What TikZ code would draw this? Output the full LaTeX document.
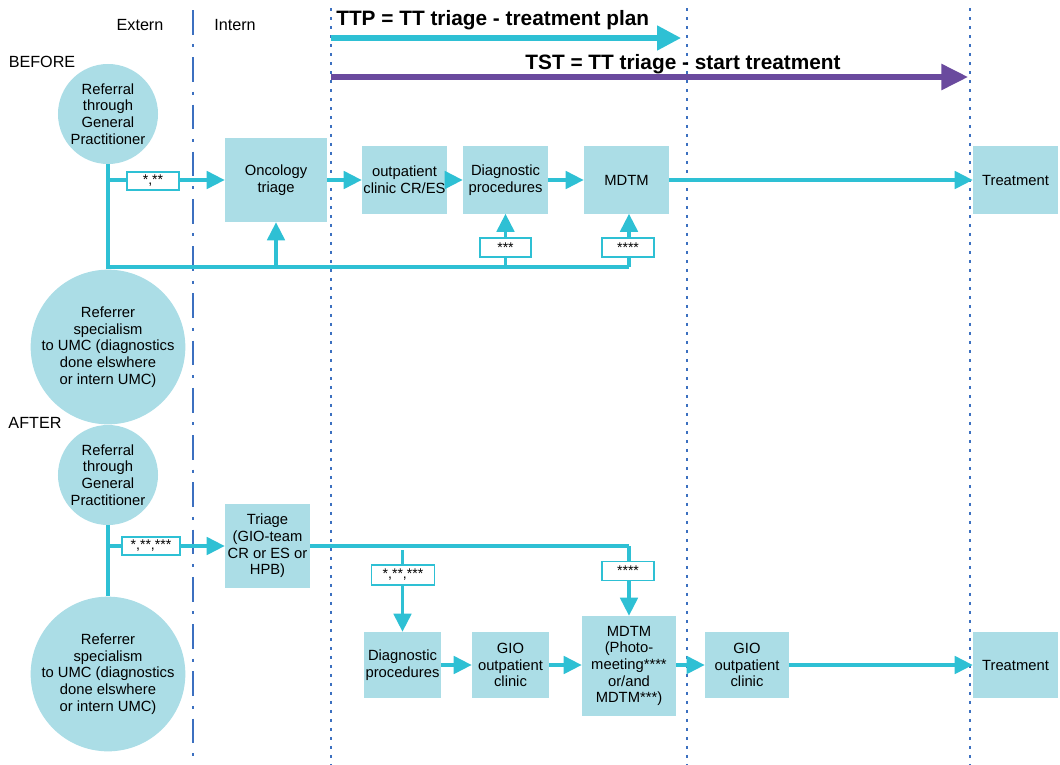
\documentclass[tikz,border=0pt]{standalone}
\usepackage{fontspec}
\setmainfont{Liberation Sans}
\usetikzlibrary{arrows.meta}
\definecolor{cy}{RGB}{46,192,212}
\definecolor{boxfill}{RGB}{171,221,230}
\definecolor{purp}{RGB}{106,74,158}
\definecolor{dblue}{RGB}{60,112,192}
\begin{document}
\begin{tikzpicture}[x=0.025cm,y=-0.025cm,
 every node/.style={font=\fontsize{10.5}{11.8}\selectfont, align=center, inner sep=0pt},
 box/.style={fill=boxfill, draw=none},
 circ/.style={circle, fill=boxfill, draw=none},
 flow/.style={draw=cy, line width=2.2pt},
 arr/.style={flow, -{Triangle[length=12.8pt,width=12.5pt]}},
 lbl/.style={draw=cy, fill=white, line width=1.1pt, font=\fontsize{10}{10}\selectfont},
 vdot/.style={draw=dblue, line width=2.1pt, dash pattern=on 2.1pt off 4.3pt},
 vdashdot/.style={draw=dblue, line width=2.1pt, dash pattern=on 17.5pt off 7pt on 2.1pt off 7pt},
 head/.style={font=\fontsize{11.5}{13}\selectfont},
 titletext/.style={font=\bfseries\fontsize{14.8}{16}\selectfont}
]
\useasboundingbox (0,0) rectangle (1060,764);

% vertical separators
\coordinate (sepA) at (193,10);  \coordinate (sepAe) at (193,764);
\coordinate (sepB) at (331,8);   \coordinate (sepBe) at (331,764);
\coordinate (sepC) at (687,8);   \coordinate (sepCe) at (687,764);
\coordinate (sepD) at (970,8);   \coordinate (sepDe) at (970,764);
\draw[vdashdot] (sepA) -- (sepAe);
\draw[vdot] (sepB) -- (sepBe);
\draw[vdot] (sepC) -- (sepCe);
\draw[vdot] (sepD) -- (sepDe);

% headers
\node[head] (hext) at (140,25) {Extern};
\node[head] (hint) at (235,25) {Intern};
\node[head] (hbef) at (42,62) {BEFORE};
\node[head] (haft) at (35,423) {AFTER};

% TTP / TST arrows
\node[titletext, anchor=west] (ttp) at (336,20) {TTP = TT triage - treatment plan};
\node[titletext] (tst) at (683,64) {TST = TT triage - start treatment};
\coordinate (ttps) at (331,38); \coordinate (ttpe) at (681,38);
\coordinate (tsts) at (331,77); \coordinate (tste) at (968,77);
\draw[cy, line width=3.6pt, -{Triangle[length=17pt,width=17pt]}] (ttps) -- (ttpe);
\draw[purp, line width=3.6pt, -{Triangle[length=19pt,width=18pt]}] (tsts) -- (tste);

% ===== BEFORE =====
\node[circ, minimum size=2.5cm] (c1) at (108,114) {Referral\\through\\General\\Practitioner};
\node[circ, minimum size=3.4cm] (c2) at (108,347) {Referrer\\specialism\\to UMC (diagnostics\\done elswhere\\or intern UMC)};
\node[box, minimum width=2.55cm, minimum height=2.1cm] (onc) at (276,180) {Oncology\\triage};
\node[box, minimum width=2.125cm, minimum height=1.675cm] (opc) at (404.5,180) {outpatient\\clinic CR/ES};
\node[box, minimum width=2.125cm, minimum height=1.675cm] (diag) at (505.5,180) {Diagnostic\\procedures};
\node[box, minimum width=2.125cm, minimum height=1.675cm] (mdtm) at (626.5,180) {MDTM};
\node[box, minimum width=2.125cm, minimum height=1.675cm] (treat) at (1015.5,180) {Treatment};

\coordinate (j1) at (108,180);
\coordinate (j2) at (108,267);
\coordinate (j3) at (629,267);
\draw[flow] (c1.south) -- (c2.north);
\draw[arr] (j1) -- (onc.west);
\draw[arr] (onc.east) -- (opc.west);
\draw[arr] (opc.east) -- (diag.west);
\draw[arr] (diag.east) -- (mdtm.west);
\draw[arr] (mdtm.east) -- (treat.west);
\draw[flow] (j2) -- (j3);
\draw[arr] (onc.south |- j2) -- (onc.south);
\draw[arr] (diag.south |- j2) -- (diag.south);
\draw[arr] (j3) -- (j3 |- mdtm.south);

\node[lbl, minimum width=1.3cm, minimum height=0.45cm] (l1) at (153,181) {*,**};
\node[lbl, minimum width=1.275cm, minimum height=0.475cm] (l2) at (505.5,247.5) {***};
\node[lbl, minimum width=1.3cm, minimum height=0.475cm] (l3) at (628,247.5) {****};

% ===== AFTER =====
\node[circ, minimum size=2.5cm] (c3) at (108,475) {Referral\\through\\General\\Practitioner};
\node[circ, minimum size=3.4cm] (c4) at (108,674) {Referrer\\specialism\\to UMC (diagnostics\\done elswhere\\or intern UMC)};
\node[box, minimum width=2.125cm, minimum height=2.1cm] (tri) at (267.5,546) {Triage\\(GIO-team\\CR or ES or\\HPB)};
\node[box, minimum width=1.925cm, minimum height=1.65cm] (diag2) at (402.5,665) {Diagnostic\\procedures};
\node[box, minimum width=1.925cm, minimum height=1.65cm] (gio1) at (510.5,665) {GIO\\outpatient\\clinic};
\node[box, minimum width=2.35cm, minimum height=2.5cm] (mdtm2) at (629,666) {MDTM\\(Photo-\\meeting****\\or/and\\MDTM***)};
\node[box, minimum width=2.1cm, minimum height=1.65cm] (gio2) at (747,665) {GIO\\outpatient\\clinic};
\node[box, minimum width=2.125cm, minimum height=1.65cm] (treat2) at (1015.5,665) {Treatment};

\coordinate (j4) at (108,546);
\coordinate (k1) at (629,546);
\coordinate (k2) at (402.5,550);
\draw[flow] (c3.south) -- (c4.north);
\draw[arr] (j4) -- (tri.west);
\draw[flow] (tri.east) -- (k1);
\draw[arr] (k1) -- (mdtm2.north);
\draw[arr] (k2) -- (diag2.north);
\draw[arr] (diag2.east) -- (gio1.west);
\draw[arr] (gio1.east) -- (gio1.east -| mdtm2.west);
\draw[arr] (mdtm2.east |- gio2.west) -- (gio2.west);
\draw[arr] (gio2.east) -- (treat2.west);

\node[lbl, minimum width=1.45cm, minimum height=0.45cm] (l4) at (151,546) {*,**,***};
\node[lbl, minimum width=1.575cm, minimum height=0.5cm] (l5) at (403,575) {*,**,***};
\node[lbl, minimum width=1.3cm, minimum height=0.475cm] (l6) at (628,571) {****};
\end{tikzpicture}
\end{document}
